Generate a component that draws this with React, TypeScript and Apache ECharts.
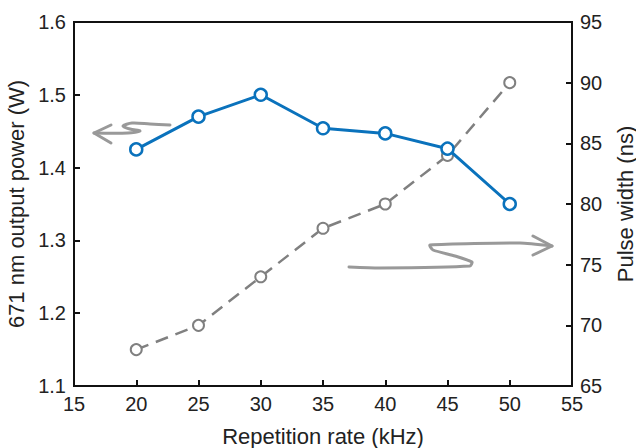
import React, { useEffect, useRef } from "react";
import * as echarts from "echarts";

const repRate = [20, 25, 30, 35, 40, 45, 50];
const outputPower = [1.425, 1.47, 1.5, 1.454, 1.447, 1.426, 1.35];
const pulseWidth = [68, 70, 74, 78, 80, 84, 90];

const FONT = "Liberation Sans, Arial, Helvetica, sans-serif";
const BLUE = "#0a72bc";
const GRAY = "#808080";

export default function App() {
  const ref = useRef<HTMLDivElement>(null);
  useEffect(() => {
    if (!ref.current) return;
    const chart = echarts.init(ref.current, null, { renderer: "svg" });
    const axisLine = { show: true, lineStyle: { color: "#111", width: 2 } };
    const axisLabel = { color: "#222", fontSize: 20, fontFamily: FONT };
    const nameStyle = { color: "#222", fontSize: 22, fontFamily: FONT };
    const tick = { show: true, inside: true, length: 6, lineStyle: { color: "#111", width: 2 } };
    const arrowStyle = { stroke: "#999", lineWidth: 3, fill: null, lineJoin: "round", lineCap: "round" };
    chart.setOption({
      animation: false,
      backgroundColor: "#fff",
      grid: {
        left: 74,
        right: 64,
        top: 22,
        bottom: 62,
        containLabel: false,
        outerBoundsMode: "none",
        show: true,
        borderColor: "#111",
        borderWidth: 2,
      },
      xAxis: {
        type: "value",
        min: 15,
        max: 55,
        interval: 5,
        name: "Repetition rate (kHz)",
        nameLocation: "middle",
        nameGap: 39,
        nameTextStyle: nameStyle,
        axisLine,
        axisTick: tick,
        axisLabel: { ...axisLabel, margin: 8 },
        splitLine: { show: false },
      },
      yAxis: [
        {
          type: "value",
          min: 1.1,
          max: 1.6,
          interval: 0.1,
          position: "left",
          name: "671 nm output power (W)",
          nameLocation: "middle",
          nameGap: 35,
          nameTextStyle: nameStyle,
          axisLine,
          axisTick: tick,
          axisLabel: { ...axisLabel, margin: 8, formatter: (v: number) => v.toFixed(1) },
          splitLine: { show: false },
        },
        {
          type: "value",
          min: 65,
          max: 95,
          interval: 5,
          position: "right",
          name: "Pulse width (ns)",
          nameLocation: "middle",
          nameGap: 42,
          nameRotate: 90,
          nameTextStyle: nameStyle,
          axisLine,
          axisTick: tick,
          axisLabel: { ...axisLabel, margin: 8 },
          splitLine: { show: false },
        },
      ],
      series: [
        {
          type: "line",
          yAxisIndex: 1,
          data: repRate.map((x, i) => [x, pulseWidth[i]]),
          lineStyle: { color: GRAY, width: 2.5, type: [13, 8] },
          symbol: "circle",
          symbolSize: 11,
          itemStyle: { color: "#fff", borderColor: GRAY, borderWidth: 2 },
          z: 2,
        },
        {
          type: "line",
          yAxisIndex: 0,
          data: repRate.map((x, i) => [x, outputPower[i]]),
          lineStyle: { color: BLUE, width: 3 },
          symbol: "circle",
          symbolSize: 12,
          itemStyle: { color: "#fff", borderColor: BLUE, borderWidth: 2.5 },
          z: 3,
        },
      ],
      graphic: [
        {
          type: "polyline",
          shape: {
            points: [
              [170, 125], [150, 124], [132, 123], [123, 126], [130, 129], [140, 131], [128, 133], [94, 133],
            ],
            smooth: 0.3,
          },
          style: arrowStyle,
        },
        {
          type: "polyline",
          shape: { points: [[111, 125], [94, 133], [111, 143]] },
          style: arrowStyle,
        },
        {
          type: "polyline",
          shape: {
            points: [
              [349, 267], [380, 268], [470, 266], [472, 262], [455, 256], [433, 250], [430, 245], [520, 243], [552, 246],
            ],
            smooth: 0.2,
          },
          style: arrowStyle,
        },
        {
          type: "polyline",
          shape: { points: [[533, 236], [552, 246], [533, 255]] },
          style: arrowStyle,
        },
      ],
    });
    return () => chart.dispose();
  }, []);
  return <div ref={ref} style={{ width: 636, height: 448, position: "absolute", left: 0, top: 0 }} />;
}
